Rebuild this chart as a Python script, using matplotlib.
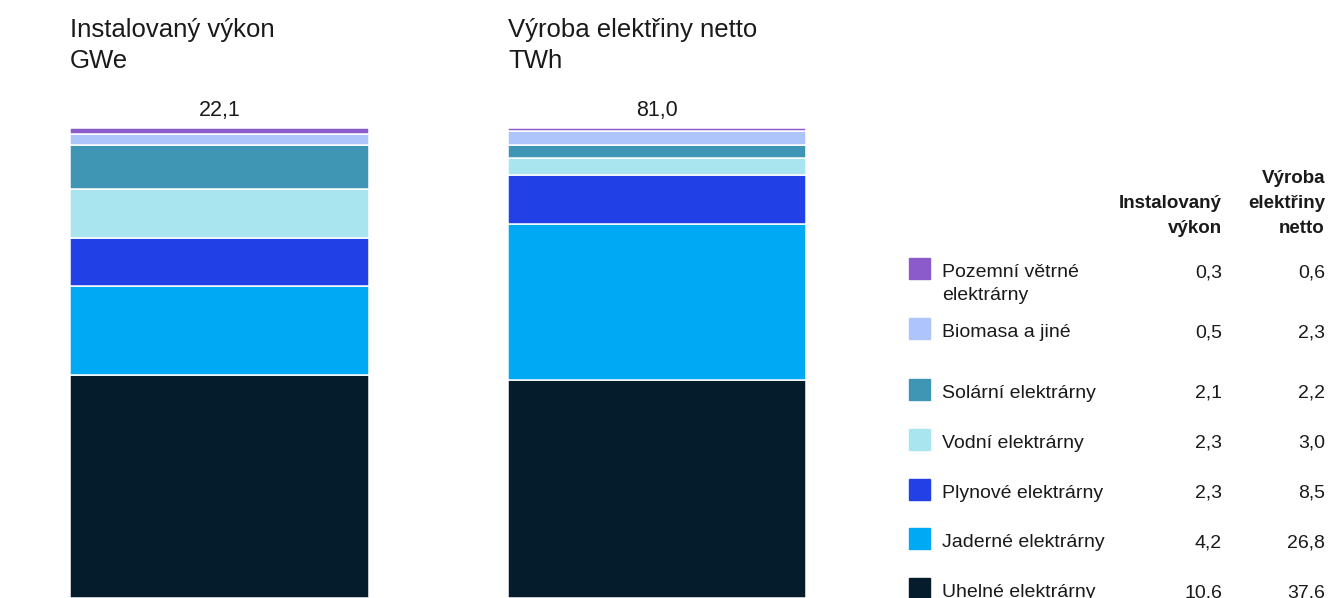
import matplotlib.pyplot as plt

plt.rcParams['font.family'] = ['Liberation Sans', 'DejaVu Sans']

# Data (shora dolu jako v legende)
zdroje = ["Pozemní větrné\nelektrárny", "Biomasa a jiné", "Solární elektrárny",
          "Vodní elektrárny", "Plynové elektrárny", "Jaderné elektrárny",
          "Uhelné elektrárny"]
vykon = [0.3, 0.5, 2.1, 2.3, 2.3, 4.2, 10.6]
vyroba = [0.6, 2.3, 2.2, 3.0, 8.5, 26.8, 37.6]
barvy = ["#8c5bcb", "#aec5fc", "#3e96b4", "#a9e5ee", "#2141e6", "#00a9f4", "#051c2c"]
celkem = ["22,1", "81,0"]
nadpisy = ["Instalovaný výkon", "Výroba elektřiny netto"]
jednotky = ["GWe", "TWh"]

W, H = 1329, 598
fig = plt.figure(figsize=(W / 100, H / 100), dpi=100)
txt = "#1a1a1a"


def fx(x):
    return x / W


def fy(y):
    return 1 - y / H


def fmt(v):
    return f"{v:.1f}".replace(".", ",")


# Sloupce
bar_x = [(70, 369), (508, 806)]
for (x0, x1), hodnoty, nadpis, jedn, tot in zip(bar_x, [vykon, vyroba], nadpisy, jednotky, celkem):
    ax = fig.add_axes([fx(x0), 0, (x1 - x0) / W, (H - 128) / H])
    spodek = 0
    for v, c in zip(hodnoty[::-1], barvy[::-1]):
        ax.bar(0, v, bottom=spodek, width=1, color=c, edgecolor="white", linewidth=1.1)
        spodek += v
    ax.set_xlim(-0.5, 0.5)
    ax.set_ylim(0, spodek)
    ax.axis("off")
    fig.text(fx(x0), fy(37), nadpis, fontsize=18.5, color=txt, va="baseline")
    fig.text(fx(x0), fy(68), jedn, fontsize=18.5, color=txt, va="baseline")
    fig.text(fx((x0 + x1) / 2), fy(116), tot, fontsize=15.5, color=txt, va="baseline", ha="center")

# Tabulka s legendou
col1, col2 = 1222, 1325
for y, t in zip([208, 233], ["Instalovaný", "výkon"]):
    fig.text(fx(col1), fy(y), t, fontsize=13.5, fontweight="bold", color=txt, ha="right", va="baseline")
for y, t in zip([183, 208, 233], ["Výroba", "elektřiny", "netto"]):
    fig.text(fx(col2), fy(y), t, fontsize=13.5, fontweight="bold", color=txt, ha="right", va="baseline")

radky = [277, 337, 398, 448, 498, 547, 597]
for y, zdroj, v1, v2, c in zip(radky, zdroje, vykon, vyroba, barvy):
    fig.patches.append(plt.Rectangle((fx(909), fy(y + 2)), 21 / W, 21 / H,
                                     transform=fig.transFigure, color=c))
    for i, radek in enumerate(zdroj.split("\n")):
        fig.text(fx(942), fy(y + i * 23), radek, fontsize=14, color=txt, va="baseline")
    fig.text(fx(col1), fy(y), fmt(v1), fontsize=14, color=txt, ha="right", va="baseline")
    fig.text(fx(col2), fy(y), fmt(v2), fontsize=14, color=txt, ha="right", va="baseline")

fig.savefig("out.png", dpi=100)
